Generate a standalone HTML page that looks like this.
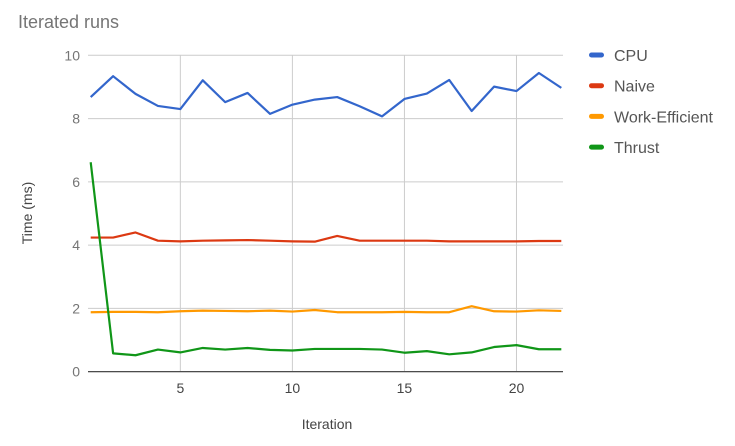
<!DOCTYPE html>
<html><head><meta charset="utf-8"><style>
body{margin:0;background:#fff;font-family:"Liberation Sans",sans-serif}
svg text{font-family:"Liberation Sans",sans-serif}
</style></head><body>
<svg id="c" width="735" height="441">
<text x="18" y="28" font-size="18" fill="#757575">Iterated runs</text>
<text x="327" y="429" font-size="14" fill="#444" text-anchor="middle">Iteration</text>
<text transform="translate(32,213) rotate(-90)" font-size="14" fill="#444" text-anchor="middle">Time (ms)</text>
<g id="grid"></g><g id="series"></g><g id="legend"></g>
</svg>
<script>
const names=["CPU","Naive","Work-Efficient","Thrust"];
const colors=["#3366cc","#dc3912","#ff9900","#109618"];
const cpu=[8.68,9.34,8.78,8.40,8.30,9.21,8.52,8.81,8.15,8.44,8.60,8.68,8.39,8.07,8.62,8.79,9.22,8.24,9.01,8.87,9.44,8.97];
const naive=[4.24,4.24,4.40,4.14,4.12,4.14,4.15,4.16,4.14,4.12,4.11,4.29,4.14,4.14,4.14,4.14,4.12,4.12,4.12,4.12,4.13,4.13];
const work=[1.88,1.89,1.89,1.88,1.91,1.93,1.92,1.91,1.93,1.90,1.95,1.88,1.88,1.88,1.89,1.88,1.88,2.07,1.91,1.90,1.94,1.92];
const thrust=[6.62,0.58,0.52,0.70,0.61,0.75,0.70,0.75,0.69,0.67,0.72,0.72,0.72,0.70,0.60,0.65,0.55,0.61,0.78,0.84,0.71,0.71];
const xTicks=[5,10,15,20];
const yTicks=[0,2,4,6,8,10];
const NS="http://www.w3.org/2000/svg";
const x=v=>90.7+(v-1)*22.41;
const y=v=>371.7-v*31.64;
function mk(t,a,p){const e=document.createElementNS(NS,t);for(const k in a)e.setAttribute(k,a[k]);p.appendChild(e);return e;}
const g=document.getElementById('grid');
yTicks.forEach(t=>{
 const l=mk('line',{x1:88,x2:563,y1:y(t),y2:y(t),stroke:t===0?'#333':'#ccc','stroke-width':t===0?1.2:1},g);
 
 
 const tx=mk('text',{x:80,y:y(t)+5,'font-size':14,fill:'#757575','text-anchor':'end'},g);
 tx.textContent=t;
 
 
});
xTicks.forEach(t=>{
 const l=mk('line',{x1:x(t),x2:x(t),y1:55,y2:371,stroke:'#ccc'},g);
 
 
 const tx=mk('text',{x:x(t),y:393,'font-size':14,fill:'#444','text-anchor':'middle'},g);
 tx.textContent=t;
 
 
});
const s=document.getElementById('series');
[cpu,naive,work,thrust].forEach((d,i)=>{
 const p=mk('polyline',{points:d.map((v,j)=>x(j+1)+','+y(v)).join(' '),fill:'none',stroke:colors[i],'stroke-width':2.2,'stroke-linejoin':'round'},s);
 
 
});
const lg=document.getElementById('legend');
names.forEach((n,i)=>{
 const r=mk('rect',{x:589,y:55+i*30.7-2.5,width:15,height:5,rx:2.5,fill:colors[i]},lg);
 
 
 const t=mk('text',{x:614,y:61+i*30.7,'font-size':16,fill:'#555'},lg);
 t.textContent=n;
 
 
});
</script>
</body></html>
